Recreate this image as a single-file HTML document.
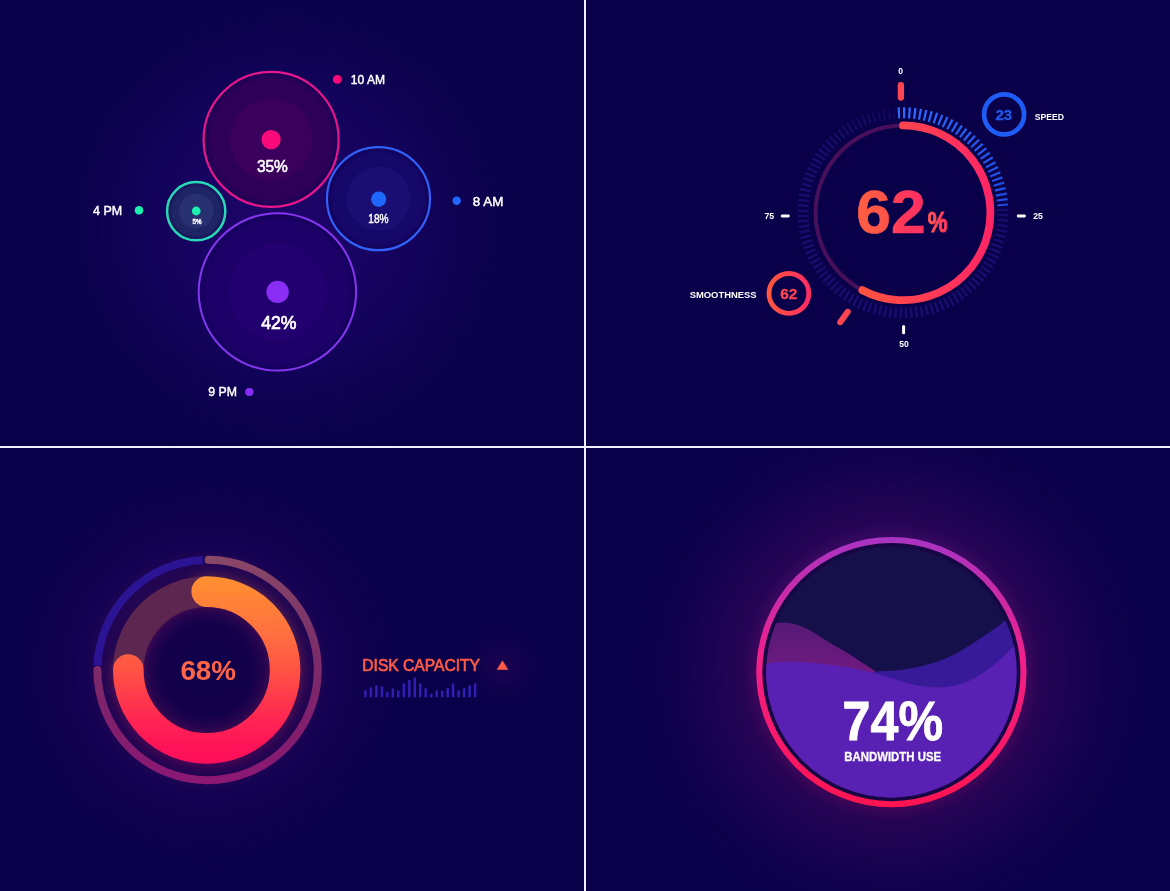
<!DOCTYPE html>
<html lang="en">
<head>
<meta charset="utf-8">
<title>Dashboard charts</title>
<style>
  html, body { margin: 0; padding: 0; background: #0a0049; }
  body { width: 1170px; height: 891px; overflow: hidden; font-family: "Liberation Sans", sans-serif; }
  svg { display: block; }
  text { font-family: "Liberation Sans", sans-serif; }
  .w { fill: #ffffff; }
  .b { font-weight: bold; }
  .m { stroke: #ffffff; stroke-width: 0.45; }
</style>
</head>
<body>
<svg width="1170" height="891" viewBox="0 0 1170 891">
  <defs>
    <!-- quadrant glows -->
    <radialGradient id="glowTL" gradientUnits="userSpaceOnUse" cx="285" cy="225" r="260">
      <stop offset="0" stop-color="#1d0567"/>
      <stop offset="0.28" stop-color="#190464"/>
      <stop offset="0.55" stop-color="#12035a"/>
      <stop offset="1" stop-color="#0a0049" stop-opacity="0"/>
    </radialGradient>
    <radialGradient id="glowBL" gradientUnits="userSpaceOnUse" cx="207" cy="670" r="225">
      <stop offset="0" stop-color="#2a0650"/>
      <stop offset="0.48" stop-color="#220552"/>
      <stop offset="0.54" stop-color="#150253"/>
      <stop offset="1" stop-color="#0a0049" stop-opacity="0"/>
    </radialGradient>
    <radialGradient id="glowTri" gradientUnits="userSpaceOnUse" cx="503" cy="666" r="46">
      <stop offset="0" stop-color="#190350"/>
      <stop offset="0.4" stop-color="#15024e" stop-opacity="0.8"/>
      <stop offset="1" stop-color="#0a0049" stop-opacity="0"/>
    </radialGradient>
    <radialGradient id="holeBL" gradientUnits="userSpaceOnUse" cx="206.7" cy="670" r="64">
      <stop offset="0" stop-color="#10004a"/>
      <stop offset="0.7" stop-color="#13004b"/>
      <stop offset="0.9" stop-color="#25044e"/>
      <stop offset="1" stop-color="#3c0a50"/>
    </radialGradient>
    <radialGradient id="glowBR" gradientUnits="userSpaceOnUse" cx="891" cy="672" r="270">
      <stop offset="0" stop-color="#2c0556"/>
      <stop offset="0.5" stop-color="#2a0556"/>
      <stop offset="0.7" stop-color="#190350"/>
      <stop offset="1" stop-color="#0a0049" stop-opacity="0"/>
    </radialGradient>
    <filter id="blurT" x="-10%" y="-10%" width="120%" height="120%"><feGaussianBlur stdDeviation="0.55"/></filter>
    <filter id="blur6" x="-30%" y="-30%" width="160%" height="160%"><feGaussianBlur stdDeviation="6"/></filter>
    <filter id="blur8" x="-30%" y="-30%" width="160%" height="160%"><feGaussianBlur stdDeviation="8"/></filter>

    <radialGradient id="fPurple" gradientUnits="userSpaceOnUse" cx="277.4" cy="291.9" r="78.7">
      <stop offset="0.9" stop-color="#1d0068"/><stop offset="0.97" stop-color="#15005e"/>
    </radialGradient>
    <radialGradient id="fMagenta" gradientUnits="userSpaceOnUse" cx="271.1" cy="139.4" r="67.5">
      <stop offset="0.89" stop-color="#2e0058"/><stop offset="0.97" stop-color="#1f0054"/>
    </radialGradient>
    <radialGradient id="fBlue" gradientUnits="userSpaceOnUse" cx="378.5" cy="198.7" r="51.5">
      <stop offset="0.87" stop-color="#160868"/><stop offset="0.96" stop-color="#11025c"/>
    </radialGradient>
    <radialGradient id="fGreen" gradientUnits="userSpaceOnUse" cx="196.2" cy="211.2" r="29.1">
      <stop offset="0.82" stop-color="#1e2464"/><stop offset="0.95" stop-color="#17125c"/>
    </radialGradient>
    <linearGradient id="gTick" gradientUnits="userSpaceOnUse" x1="900" y1="110" x2="1003" y2="205">
      <stop offset="0" stop-color="#2d6cff"/>
      <stop offset="1" stop-color="#1e4ce6"/>
    </linearGradient>
    <linearGradient id="gDim" gradientUnits="userSpaceOnUse" x1="0" y1="107" x2="0" y2="318">
      <stop offset="0" stop-color="#100658"/>
      <stop offset="0.25" stop-color="#140d6c"/>
      <stop offset="1" stop-color="#150e6e"/>
    </linearGradient>
    <linearGradient id="gPct" gradientUnits="userSpaceOnUse" x1="927" y1="0" x2="949" y2="0">
      <stop offset="0" stop-color="#ff5650"/>
      <stop offset="1" stop-color="#ff3560"/>
    </linearGradient>

    <!-- gauge gradients -->
    <linearGradient id="gRed" gradientUnits="userSpaceOnUse" x1="840" y1="0" x2="995" y2="0">
      <stop offset="0" stop-color="#ff5a3c"/>
      <stop offset="1" stop-color="#ff2466"/>
    </linearGradient>
    <linearGradient id="gTxt" gradientUnits="userSpaceOnUse" x1="858" y1="0" x2="925" y2="0">
      <stop offset="0" stop-color="#ff5e42"/>
      <stop offset="0.4" stop-color="#ff5548"/>
      <stop offset="0.62" stop-color="#ff3a5a"/>
      <stop offset="1" stop-color="#ff2e62"/>
    </linearGradient>
    <linearGradient id="gBadge" gradientUnits="userSpaceOnUse" x1="766" y1="0" x2="811" y2="0">
      <stop offset="0" stop-color="#ff5a3c"/>
      <stop offset="1" stop-color="#ff2a64"/>
    </linearGradient>

    <!-- donut gradients -->
    <linearGradient id="gDonut" gradientUnits="userSpaceOnUse" x1="0" y1="577" x2="0" y2="764">
      <stop offset="0" stop-color="#ff9030"/>
      <stop offset="0.3" stop-color="#ff7040"/>
      <stop offset="0.5" stop-color="#ff5244"/>
      <stop offset="0.76" stop-color="#ff2652"/>
      <stop offset="0.9" stop-color="#ff1458"/>
      <stop offset="1" stop-color="#ff0e5c"/>
    </linearGradient>
    <linearGradient id="gThin" gradientUnits="userSpaceOnUse" x1="0" y1="556" x2="0" y2="784">
      <stop offset="0" stop-color="#8a4868"/>
      <stop offset="0.35" stop-color="#7a3268"/>
      <stop offset="0.7" stop-color="#80206c"/>
      <stop offset="1" stop-color="#8c1874"/>
    </linearGradient>

    <!-- bandwidth -->
    <linearGradient id="gBand" gradientUnits="userSpaceOnUse" x1="0" y1="537" x2="0" y2="807">
      <stop offset="0" stop-color="#a834c4"/>
      <stop offset="0.45" stop-color="#f0208a"/>
      <stop offset="1" stop-color="#ff1450"/>
    </linearGradient>
    <clipPath id="clipBand"><circle cx="891.4" cy="672.1" r="125.3"/></clipPath>
    <linearGradient id="gWaveM" gradientUnits="userSpaceOnUse" x1="0" y1="622" x2="0" y2="668">
      <stop offset="0" stop-color="#541a74"/>
      <stop offset="1" stop-color="#6e1a80"/>
    </linearGradient>
  </defs>

  <!-- base -->
  <rect x="0" y="0" width="1170" height="891" fill="#0a0049"/>
  <rect x="0" y="0" width="584" height="446" fill="url(#glowTL)"/>
  <rect x="0" y="448" width="584" height="443" fill="url(#glowBL)"/>
  <rect x="586" y="448" width="584" height="443" fill="url(#glowBR)"/>

  <!-- ================= TOP LEFT : bubbles ================= -->
  <g id="bubbles">
    <!-- purple 42% -->
    <circle cx="277.4" cy="291.9" r="78.7" fill="url(#fPurple)" stroke="#8636f0" stroke-width="2"/>
    <circle cx="277.4" cy="291.9" r="49" fill="#23006f"/>
    <circle cx="277.6" cy="291.9" r="11.2" fill="#8a2ef5"/>
    <text class="w m" x="278.9" y="329.2" font-size="18.4" style="stroke-width:0.7" text-anchor="middle" textLength="35.3" lengthAdjust="spacingAndGlyphs">42%</text>

    <!-- magenta 35% -->
    <circle cx="271.1" cy="139.4" r="67.5" fill="url(#fMagenta)" stroke="#e8168c" stroke-width="2.2"/>
    <circle cx="271.1" cy="139.4" r="41" fill="#3a005c"/>
    <circle cx="271.1" cy="139.6" r="9.6" fill="#fa0a7a"/>
    <text class="w m" x="272.4" y="171.6" font-size="16.6" style="stroke-width:0.6" text-anchor="middle" textLength="31" lengthAdjust="spacingAndGlyphs">35%</text>

    <!-- blue 18% -->
    <circle cx="378.5" cy="198.7" r="51.5" fill="url(#fBlue)" stroke="#3260f8" stroke-width="2.2"/>
    <circle cx="378.5" cy="198.7" r="31.9" fill="#1b0e73"/>
    <circle cx="378.7" cy="199.2" r="7.6" fill="#1e68ff"/>
    <text class="w m" x="378.5" y="222.8" font-size="12.3" text-anchor="middle" textLength="20.3" lengthAdjust="spacingAndGlyphs">18%</text>

    <!-- green 5% -->
    <circle cx="196.2" cy="211.2" r="29.1" fill="url(#fGreen)" stroke="#28dab6" stroke-width="2.5"/>
    <circle cx="196.2" cy="211.2" r="17.4" fill="#273070"/>
    <circle cx="196.2" cy="211" r="4.4" fill="#1ef0b0"/>
    <text class="w m" x="197" y="224.4" font-size="6.4" text-anchor="middle" textLength="9" lengthAdjust="spacingAndGlyphs">5%</text>

    <!-- labels -->
    <circle cx="337.3" cy="79.4" r="4.4" fill="#fa0a7a"/>
    <text class="w m" x="350.8" y="83.6" font-size="12.6" textLength="34.3" lengthAdjust="spacingAndGlyphs">10 AM</text>
    <circle cx="456.7" cy="200.7" r="4.2" fill="#1e68ff"/>
    <text class="w m" x="472.8" y="205.7" font-size="12.6" textLength="30.5" lengthAdjust="spacingAndGlyphs">8 AM</text>
    <circle cx="139" cy="210.2" r="4.3" fill="#1ef0b0"/>
    <text class="w m" x="93" y="214.7" font-size="12.5" textLength="29.1" lengthAdjust="spacingAndGlyphs">4 PM</text>
    <circle cx="249.3" cy="392" r="4.1" fill="#8a2ef5"/>
    <text class="w m" x="208.3" y="396" font-size="12.5" textLength="28.7" lengthAdjust="spacingAndGlyphs">9 PM</text>
  </g>

  <!-- ================= TOP RIGHT : gauge ================= -->
  <g id="gauge">
    <!-- dim ticks -->
    <path d="M 1002.92 208.70 A 100 100 0 1 1 894.98 113.12" fill="none" stroke="url(#gDim)" stroke-width="11" stroke-dasharray="2.5 2.722" filter="url(#blurT)"/>
    <!-- bright ticks 0..23% -->
    <path d="M 897.89 112.93 A 100 100 0 0 1 1002.75 205.79" fill="none" stroke="url(#gTick)" stroke-width="11" stroke-dasharray="2.2 3.075"/>
    <!-- track -->
    <circle cx="903" cy="212.8" r="87.4" fill="none" stroke="#48105a" stroke-width="4"/>
    <!-- value arc -->
    <path d="M 903 125.4 A 87.4 87.4 0 1 1 862.4 290.2" fill="none" stroke="url(#gRed)" stroke-width="7.8" stroke-linecap="round"/>
    <!-- markers -->
    <line x1="900.9" y1="85.2" x2="900.9" y2="97.6" stroke="#ff4452" stroke-width="6.3" stroke-linecap="round"/>
    <line x1="847.7" y1="311.8" x2="840.2" y2="322.2" stroke="#ff4452" stroke-width="6" stroke-linecap="round"/>
    <line x1="903.6" y1="326.4" x2="903.6" y2="332.7" stroke="#ffffff" stroke-width="3" stroke-linecap="round"/>
    <line x1="1018.2" y1="216" x2="1024.5" y2="216" stroke="#ffffff" stroke-width="2.8" stroke-linecap="round"/>
    <line x1="782.1" y1="216" x2="788.4" y2="216" stroke="#ffffff" stroke-width="2.8" stroke-linecap="round"/>
    <!-- scale labels -->
    <text class="w b" x="900.5" y="74.1" font-size="8.5" text-anchor="middle">0</text>
    <text class="w b" x="903.9" y="347" font-size="8.5" text-anchor="middle">50</text>
    <text class="w b" x="1038.1" y="218.6" font-size="8.7" text-anchor="middle">25</text>
    <text class="w b" x="769.3" y="218.6" font-size="8.7" text-anchor="middle">75</text>
    <!-- value -->
    <text class="b" x="856.3" y="232.5" font-size="61.5" fill="url(#gTxt)" stroke="url(#gTxt)" stroke-width="0.7" textLength="69.3" lengthAdjust="spacingAndGlyphs">62</text>
    <text class="b" x="927.8" y="232.4" font-size="30" fill="url(#gPct)" stroke="url(#gPct)" stroke-width="1.1" textLength="19.8" lengthAdjust="spacingAndGlyphs">%</text>
    <!-- speed badge -->
    <circle cx="1004.1" cy="114.4" r="20" fill="none" stroke="#1e5cf5" stroke-width="4.7"/>
    <text class="b" x="995.4" y="120" font-size="13.8" fill="#2258ea" stroke="#2258ea" stroke-width="0.3" textLength="16.8" lengthAdjust="spacingAndGlyphs">23</text>
    <text class="w b" x="1034.8" y="120.2" font-size="9.2" textLength="29.2" lengthAdjust="spacingAndGlyphs">SPEED</text>
    <!-- smoothness badge -->
    <circle cx="788.9" cy="293.4" r="19.9" fill="none" stroke="url(#gBadge)" stroke-width="4.8"/>
    <text class="b" x="780.2" y="298.9" font-size="14.6" fill="url(#gBadge)" stroke="url(#gBadge)" stroke-width="0.3" textLength="17" lengthAdjust="spacingAndGlyphs">62</text>
    <text class="w b" x="689.7" y="298.2" font-size="9.6" textLength="66.9" lengthAdjust="spacingAndGlyphs">SMOOTHNESS</text>
  </g>

  <!-- ================= BOTTOM LEFT : donut ================= -->
  <g id="donut">
    <path d="M 206.7 591.6 A 78.4 78.4 0 1 1 128.3 669.6" fill="none" stroke="url(#gDonut)" stroke-width="32" stroke-linecap="round" filter="url(#blur6)" opacity="0.28"/>
    <!-- outer thin ring -->
    <path d="M 208.6 559.8 A 110.2 110.2 0 1 1 97.4 670.0" fill="none" stroke="url(#gThin)" stroke-width="8" stroke-linecap="round"/>
    <path d="M 97.5 665.6 A 110.2 110.2 0 0 1 202.8 559.9" fill="none" stroke="#2b1494" stroke-width="8"/>
    <circle cx="206.7" cy="670" r="64" fill="url(#holeBL)"/>
    <!-- track quarter -->
    <path d="M 128.3 670 A 78.4 78.4 0 0 1 206.7 591.6" fill="none" stroke="#5c2651" stroke-width="30.6"/>
    <!-- value arc -->
    <path d="M 206.7 591.6 A 78.4 78.4 0 1 1 128.3 669.6" fill="none" stroke="url(#gDonut)" stroke-width="30.6" stroke-linecap="round"/>
    <text class="b" x="180.4" y="679.6" font-size="28" fill="#ff6647" textLength="55.6" lengthAdjust="spacingAndGlyphs">68%</text>

    <circle cx="503" cy="666" r="46" fill="url(#glowTri)"/>
    <text x="362.3" y="670.8" font-size="16.4" fill="#ff5a46" stroke="#ff5a46" stroke-width="0.7" textLength="117.7" lengthAdjust="spacingAndGlyphs">DISK CAPACITY</text>
    <path d="M 502.5 660.8 L 507.8 669.4 L 497.2 669.4 Z" fill="#ff5a46" stroke="#ff5a46" stroke-width="0.6" stroke-linejoin="round"/>
    <g fill="#3220b6">
      <rect x="364.2" y="690.4" width="2.4" height="6.9"/>
      <rect x="369.7" y="687.3" width="2.4" height="10"/>
      <rect x="375.2" y="685.3" width="2.4" height="12"/>
      <rect x="380.7" y="686.5" width="2.4" height="10.8"/>
      <rect x="386.1" y="691.9" width="2.4" height="5.4"/>
      <rect x="391.6" y="688.4" width="2.4" height="8.9"/>
      <rect x="397.1" y="690.4" width="2.4" height="6.9"/>
      <rect x="402.6" y="683.5" width="2.4" height="13.8"/>
      <rect x="408.1" y="680.1" width="2.4" height="17.2"/>
      <rect x="413.6" y="677.6" width="2.4" height="19.7"/>
      <rect x="419.0" y="683.5" width="2.4" height="13.8"/>
      <rect x="424.5" y="688.1" width="2.4" height="9.2"/>
      <rect x="430.0" y="693.9" width="2.4" height="3.4"/>
      <rect x="435.5" y="690.4" width="2.4" height="6.9"/>
      <rect x="441.0" y="690.8" width="2.4" height="6.5"/>
      <rect x="446.5" y="688.1" width="2.4" height="9.2"/>
      <rect x="451.9" y="683.5" width="2.4" height="13.8"/>
      <rect x="457.4" y="690.4" width="2.4" height="6.9"/>
      <rect x="462.9" y="688.1" width="2.4" height="9.2"/>
      <rect x="468.4" y="685.3" width="2.4" height="12"/>
      <rect x="473.9" y="683.5" width="2.4" height="13.8"/>
    </g>
  </g>

  <!-- ================= BOTTOM RIGHT : bandwidth ================= -->
  <g id="band">
    <circle cx="891.4" cy="672.1" r="132" fill="none" stroke="url(#gBand)" stroke-width="9" filter="url(#blur8)" opacity="0.22"/>
    <circle cx="891.4" cy="672.1" r="132.1" fill="#160744" stroke="url(#gBand)" stroke-width="6.1"/>
    <g clip-path="url(#clipBand)">
      <rect x="760" y="540" width="265" height="265" fill="#15104a"/>
      <!-- back magenta wave -->
      <path d="M 760 628 C 770 623, 780 622, 788 622.8 C 800 624, 812 631, 823 638.5 C 833 645, 840 648.5, 847.4 653 C 857 659, 864 664, 872 669 C 880 674, 890 684, 900 700 L 900 810 L 760 810 Z" fill="url(#gWaveM)"/>
      <!-- blue wave -->
      <path d="M 1025 605 C 1005 622, 985 636, 957 653 C 935 665, 905 671, 884 671 C 876 671, 868 673, 858 682 L 850 810 L 1025 810 Z" fill="#361a98"/>
      <!-- front wave -->
      <path d="M 760 665 C 775 661, 795 661, 811 662.8 C 835 665, 855 668, 872 672.6 C 890 678, 905 683, 920.5 686 C 937 689, 955 687, 969 681 C 985 674, 1000 660, 1012 648 L 1030 630 L 1030 810 L 760 810 Z" fill="#5920b4"/>
    </g>
    <text class="w b" x="842.6" y="739.9" font-size="55" stroke="#fff" stroke-width="0.8" textLength="100.4" lengthAdjust="spacingAndGlyphs">74%</text>
    <text class="w b" x="844.3" y="761" font-size="12.6" stroke="#fff" stroke-width="0.3" textLength="96.8" lengthAdjust="spacingAndGlyphs">BANDWIDTH USE</text>
  </g>

  <!-- dividers -->
  <rect x="584" y="0" width="2" height="891" fill="#f1f0ff"/>
  <rect x="0" y="446" width="1170" height="2" fill="#f1f0ff"/>
</svg>
</body>
</html>
